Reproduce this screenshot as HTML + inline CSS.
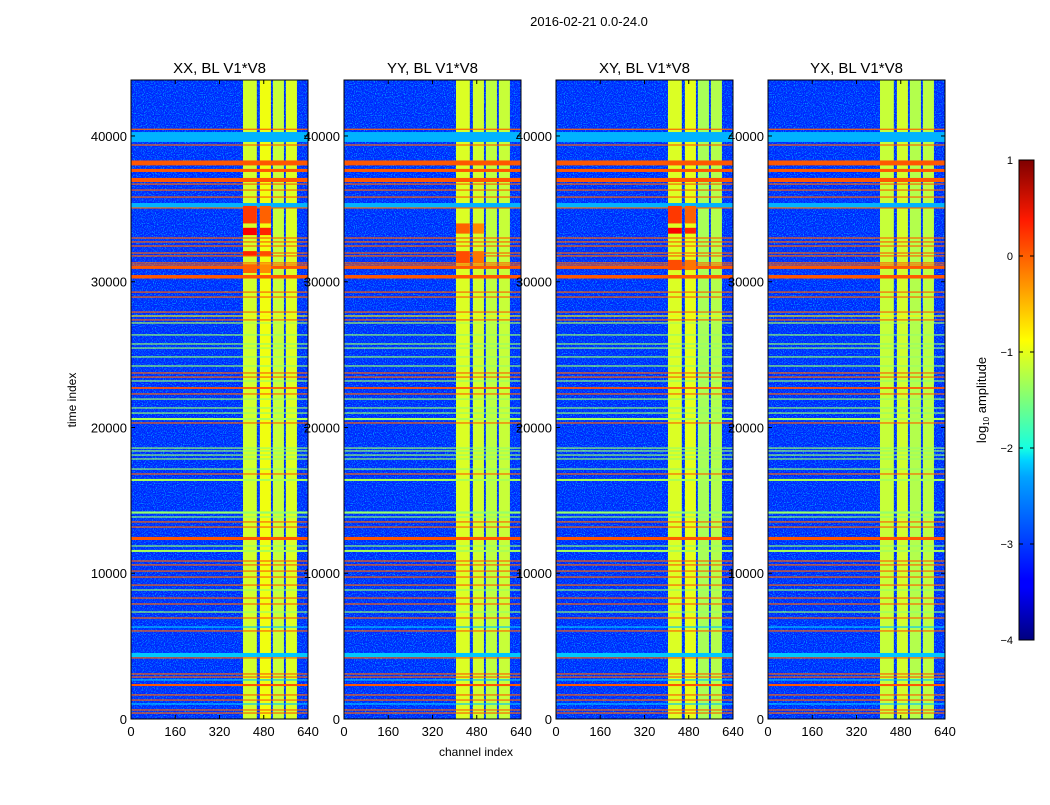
<!DOCTYPE html>
<html><head><meta charset="utf-8"><style>
body{margin:0;background:#fff;}
svg text{font-family:"Liberation Sans",sans-serif;fill:#000;}
</style></head><body>
<svg id="fig" width="1050" height="800" viewBox="0 0 1050 800" xmlns="http://www.w3.org/2000/svg">
<rect width="1050" height="800" fill="#fff"/>
<text x="589" y="26" font-size="13" text-anchor="middle">2016-02-21 0.0-24.0</text>
<defs>
<linearGradient id="jetg" x1="0" y1="1" x2="0" y2="0">
<stop offset="0" stop-color="#00007f"/><stop offset="0.11" stop-color="#0000ff"/>
<stop offset="0.125" stop-color="#0000ff"/><stop offset="0.34" stop-color="#00a4ff"/>
<stop offset="0.375" stop-color="#00d4ff"/><stop offset="0.4" stop-color="#16ffe1"/>
<stop offset="0.5" stop-color="#7dff7a"/><stop offset="0.625" stop-color="#ffff00"/>
<stop offset="0.75" stop-color="#ff8c00"/><stop offset="0.875" stop-color="#ff1a00"/>
<stop offset="1" stop-color="#7f0000"/>
</linearGradient>
<filter id="speck" x="0" y="0" width="100%" height="100%">
<feTurbulence type="fractalNoise" baseFrequency="0.9" numOctaves="1" seed="3" result="n"/>
<feColorMatrix in="n" type="matrix" values="0 0 0 0 0  0 0 0 0 0.9  0 0 0 0 1  0 0 0 2.2 -1.05"/>
</filter>
</defs>
<g id="panels"></g>
<g id="cbar">
<rect x="1019" y="160" width="15" height="480" fill="url(#jetg)" stroke="#000" stroke-width="1"/>
</g>
<text x="0" y="0" font-size="13" text-anchor="middle" transform="translate(986,400) rotate(-90)">log<tspan font-size="8" dy="3">10</tspan><tspan dy="-3"> amplitude</tspan></text>
<text x="476" y="756" font-size="12" text-anchor="middle">channel index</text>
<text x="0" y="0" font-size="12" text-anchor="middle" transform="translate(76,400) rotate(-90)">time index</text>
</svg>
<script>
const panelNames = ["XX, BL V1*V8","YY, BL V1*V8","XY, BL V1*V8","YX, BL V1*V8"];
const xTicks = [0,160,320,480,640];
const yTicks = [0,10000,20000,30000,40000];
const cbTicks = [1,0,-1,-2,-3,-4];
const baseLevel = -3.2;
// vertical RFI bands: channel start, end
const bandStart = [405,466,513,560];
const bandEnd = [455,506,553,600];
// band levels per panel (log amplitude)
const bandLevel = [[-1.1,-0.95,-1.15,-1.05],[-1.05,-1.1,-1.2,-1.15],[-1.05,-1.0,-1.3,-1.25],[-1.15,-1.1,-1.25,-1.2]];
// horizontal rows: time start, end, level
const rowStart = [40420,39590,39340,37980,37530,36840,36660,36250,35770,35060,35020,32960,32690,32410,31930,31730,31250,31110,30880,30220,29250,28910,27880,27610,27340,27130,26310,25690,25410,24800,24180,23700,23420,23150,22650,22260,21910,21300,20950,20510,20270,18550,18350,18070,17800,17110,16770,16330,14160,14090,13820,13480,13130,12280,11830,11460,10800,10530,10110,9700,9150,8810,8260,7850,7300,6890,6270,6000,4250,4150,3050,2840,2640,2260,1610,1260,990,580,370];
const rowEnd   = [40500,40270,39420,38320,37740,37120,36740,36330,35850,35400,35100,33040,32770,32490,32010,31810,31330,31190,31080,30460,29330,28990,27960,27690,27420,27210,26390,25770,25490,24880,24260,23780,23500,23230,22770,22340,21990,21380,21030,20650,20350,18630,18430,18150,17880,17190,16850,16470,14240,14170,13900,13560,13210,12490,11910,11600,10880,10610,10190,9780,9230,8890,8340,7930,7380,6970,6350,6080,4530,4230,3130,2920,2720,2400,1690,1340,1070,660,450];
const rowLevel = [-0.1,-2.5,-0.1,-0.05,-0.05,-0.05,-0.1,-0.1,-0.1,-2.5,-0.1,-0.1,-0.1,-0.1,-0.1,-0.1,-0.1,-0.1,-0.05,-0.05,-0.1,-0.1,-0.1,-0.8,-0.1,-1.3,-1.4,-1.4,-1.4,-1.4,-1.4,-0.1,-0.1,-1.4,-0.05,-0.1,-1.4,-1.4,-1.4,-1.3,-0.1,-1.4,-1.4,-1.4,-1.4,-1.4,-0.1,-1.3,-1.4,-1.4,-1.4,-0.1,-0.1,-0.05,-1.4,-1.3,-0.1,-0.1,-0.1,-0.1,-0.1,-1.4,-0.1,-0.1,-1.4,-0.1,-2.4,-0.1,-2.4,-0.1,-0.1,-0.1,-2.4,-0.05,-0.1,-0.1,-2.4,-0.1,-0.1];
// strong blocks inside bands: panel, time start, time end, level
const blkPanel = [0,0,0,0,2,2,2,1,1];
const blkStart = [34000,33200,30600,31800,34000,30800,33300,31300,33300];
const blkEnd   = [35200,33700,31200,32100,35200,31500,33700,32100,34000];
const blkLevel = [0.1,0.4,-0.1,0.2,0.1,0.0,0.4,0.0,-0.1];

const NS="http://www.w3.org/2000/svg";
const plotTop=80, plotBot=719, plotW=177, tMax=43840, chMax=640;
const lefts=[131,344,556,768];
function jet(v){let x=(v+4)/5;x=Math.max(0,Math.min(1,x));
 const r=Math.max(0,Math.min(1,Math.min(4*x-1.5,-4*x+4.5))),g=Math.max(0,Math.min(1,Math.min(4*x-0.5,-4*x+3.5))),b=Math.max(0,Math.min(1,Math.min(4*x+0.5,-4*x+2.5)));
 return `rgb(${Math.round(r*255)},${Math.round(g*255)},${Math.round(b*255)})`;}
function yS(t){return plotBot-(t/tMax)*(plotBot-plotTop);}
function mk(tag,attrs,parent){const e=document.createElementNS(NS,tag);for(const k in attrs)e.setAttribute(k,attrs[k]);parent.appendChild(e);return e;}
const panelsG=document.getElementById('panels');
const labelsG=mk('g',{},document.getElementById('fig'));
panelNames.forEach((name,p)=>{
 const L=lefts[p]; const xS=c=>L+c/chMax*plotW;
 const g=mk('g',{},panelsG);
 
 
 const bg=mk('rect',{x:L,y:plotTop,width:plotW,height:plotBot-plotTop,fill:jet(baseLevel)},g);
 
 
 const sp=mk('rect',{x:L,y:plotTop,width:plotW,height:plotBot-plotTop,filter:'url(#speck)'},g);
 
 
 bandStart.forEach((s,i)=>{const r=mk('rect',{x:xS(s),y:plotTop,width:xS(bandEnd[i])-xS(s),height:plotBot-plotTop,fill:jet(bandLevel[p][i])},g);
  
  });
 rowStart.forEach((s,i)=>{const y1=yS(rowEnd[i]),y2=yS(s);const r=mk('rect',{x:L,y:y1,width:plotW,height:Math.max(0.8,y2-y1),fill:jet(rowLevel[i])},g);
  
  });
 blkStart.forEach((s,i)=>{if(blkPanel[i]!==p)return;bandStart.forEach((bs,j)=>{if(j>1)return;const y1=yS(blkEnd[i]),y2=yS(s);
  const r=mk('rect',{x:xS(bs),y:y1,width:xS(bandEnd[j])-xS(bs),height:y2-y1,fill:jet(blkLevel[i]-j*0.2)},g);
  
  });});
 mk('rect',{x:L,y:plotTop,width:plotW,height:plotBot-plotTop,fill:'none',stroke:'#000','stroke-width':1},g);
 const t=mk('text',{x:L+plotW/2,y:73,'font-size':15,'text-anchor':'middle'},labelsG);t.textContent=name;
 
 
 xTicks.forEach(v=>{const x=xS(v);mk('line',{x1:x,x2:x,y1:plotBot,y2:plotBot-4,stroke:'#000'},labelsG);mk('line',{x1:x,x2:x,y1:plotTop,y2:plotTop+4,stroke:'#000'},labelsG);
  const tx=mk('text',{x:x,y:736,'font-size':13,'text-anchor':'middle'},labelsG);tx.textContent=v;
  
  });
 yTicks.forEach(v=>{const y=yS(v);mk('line',{x1:L,x2:L+4,y1:y,y2:y,stroke:'#000'},labelsG);mk('line',{x1:L+plotW,x2:L+plotW-4,y1:y,y2:y,stroke:'#000'},labelsG);
  const ty=mk('text',{x:L-4,y:y+5,'font-size':13,'text-anchor':'end'},labelsG);ty.textContent=v;
  
  });
});
const cb=document.getElementById('cbar');
cbTicks.forEach(v=>{const y=160+(1-v)/5*480;mk('line',{x1:1019,x2:1023,y1:y,y2:y,stroke:'#000'},cb);mk('line',{x1:1030,x2:1034,y1:y,y2:y,stroke:'#000'},cb);
 const t=mk('text',{x:1013,y:y+4,'font-size':11,'text-anchor':'end'},cb);t.textContent=v<0?'\u2212'+(-v):v;
 
 });
</script>
</body></html>
